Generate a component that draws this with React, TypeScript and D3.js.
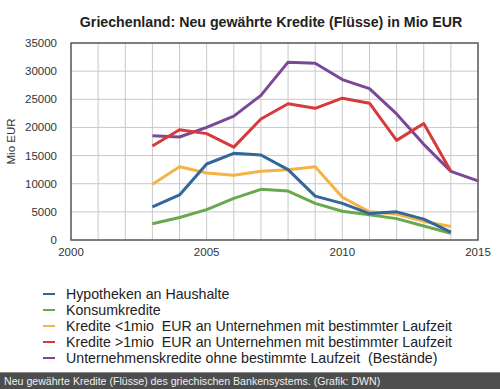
import React, { useEffect, useRef } from 'react';
import * as d3 from 'd3';

const years = [2003, 2004, 2005, 2006, 2007, 2008, 2009, 2010, 2011, 2012, 2013, 2014, 2015];

const hypotheken = [5900, 8000, 13500, 15400, 15100, 12500, 7800, 6500, 4700, 5000, 3700, 1400];
const konsum = [2900, 4000, 5400, 7400, 9000, 8700, 6500, 5100, 4500, 3800, 2500, 1200];
const kleinKredite = [9900, 13000, 11900, 11500, 12200, 12500, 13000, 7600, 5000, 4600, 3300, 2400];
const grossKredite = [16700, 19600, 18900, 16500, 21500, 24200, 23400, 25200, 24300, 17700, 20700, 12200];
const ohneLaufzeit = [18500, 18300, 20000, 22000, 25700, 31600, 31400, 28500, 26900, 22400, 17000, 12200, 10500];

const seriesNames = [
  'Hypotheken an Haushalte',
  'Konsumkredite',
  'Kredite <1mio  EUR an Unternehmen mit bestimmter Laufzeit',
  'Kredite >1mio  EUR an Unternehmen mit bestimmter Laufzeit',
  'Unternehmenskredite ohne bestimmte Laufzeit  (Bestände)',
];
const seriesColors = ['#33679a', '#6aa84f', '#f4b343', '#d63a3c', '#7b4897'];
const yTicks = [0, 5000, 10000, 15000, 20000, 25000, 30000, 35000];
const xTicks = [2000, 2005, 2010, 2015];

const App: React.FC = () => {
  const svgRef = useRef<SVGSVGElement>(null);

  useEffect(() => {
    if (!svgRef.current) return;
    const svg = d3.select(svgRef.current);
    svg.selectAll('*').remove();

    const left = 71, right = 478, top = 43, bottom = 240;
    const font = 'Liberation Sans, Arial, Helvetica, sans-serif';

    svg.append('rect').attr('width', 500).attr('height', 389).attr('fill', '#fff');

    const x = d3.scaleLinear().domain([2000, 2015]).range([left, right]);
    const y = d3.scaleLinear().domain([0, 35000]).range([bottom, top]);

    // grid
    const grid = svg.append('g').attr('stroke', '#c9c9c9').attr('stroke-width', 1);
    d3.range(2001, 2015).forEach(yr => {
      grid.append('line').attr('x1', x(yr)).attr('x2', x(yr)).attr('y1', top).attr('y2', bottom);
    });
    yTicks.slice(1, -1).forEach(v => {
      grid.append('line').attr('x1', left).attr('x2', right).attr('y1', y(v)).attr('y2', y(v));
    });

    svg.append('rect')
      .attr('x', left).attr('y', top)
      .attr('width', right - left).attr('height', bottom - top)
      .attr('fill', 'none').attr('stroke', '#555').attr('stroke-width', 1.5);

    // tick labels
    svg.append('g').selectAll('text').data(yTicks).enter().append('text')
      .attr('x', left - 14).attr('y', d => y(d) + 4)
      .attr('text-anchor', 'end')
      .attr('font-family', font).attr('font-size', 11.5).attr('fill', '#333')
      .text(d => d);

    svg.append('g').selectAll('text').data(xTicks).enter().append('text')
      .attr('x', d => x(d)).attr('y', bottom + 16)
      .attr('text-anchor', 'middle')
      .attr('font-family', font).attr('font-size', 11.5).attr('fill', '#333')
      .text(d => d);

    svg.append('text')
      .attr('transform', `translate(15,${(top + bottom) / 2}) rotate(-90)`)
      .attr('text-anchor', 'middle')
      .attr('font-family', font).attr('font-size', 11.5).attr('fill', '#333')
      .text('Mio EUR');

    svg.append('text')
      .attr('x', 271).attr('y', 27)
      .attr('text-anchor', 'middle')
      .attr('font-family', font).attr('font-size', 14.2).attr('font-weight', 'bold').attr('fill', '#222')
      .text('Griechenland: Neu gewährte Kredite (Flüsse) in Mio EUR');

    // lines
    const allSeries = [hypotheken, konsum, kleinKredite, grossKredite, ohneLaufzeit];
    const line = d3.line<number>()
      .x((_, i) => x(years[i]))
      .y(d => y(d));
    const drawOrder = [4, 3, 2, 1, 0];
    drawOrder.forEach(i => {
      svg.append('path')
        .datum(allSeries[i])
        .attr('d', line)
        .attr('fill', 'none')
        .attr('stroke', seriesColors[i])
        .attr('stroke-width', 3)
        .attr('stroke-linejoin', 'round');
    });

    // legend
    const legend = svg.append('g');
    seriesNames.forEach((name, i) => {
      const ly = 294 + i * 16;
      legend.append('line')
        .attr('x1', 43).attr('x2', 55).attr('y1', ly).attr('y2', ly)
        .attr('stroke', seriesColors[i]).attr('stroke-width', 2);
      legend.append('text')
        .attr('x', 66).attr('y', ly + 5)
        .attr('font-family', font).attr('font-size', 14.2).attr('fill', '#222')
        .attr('xml:space', 'preserve')
        .style('white-space', 'pre')
        .text(name);
    });

    // caption bar
    svg.append('rect').attr('x', 0).attr('y', 372).attr('width', 500).attr('height', 17).attr('fill', '#4d4d4d');
    svg.append('line').attr('x1', 0).attr('x2', 500).attr('y1', 372.5).attr('y2', 372.5).attr('stroke', '#8a8a8a');
    svg.append('text')
      .attr('x', 4).attr('y', 384.5)
      .attr('font-family', font).attr('font-size', 10.6).attr('fill', '#f0f0f0')
      .text('Neu gewährte Kredite (Flüsse) des griechischen Bankensystems. (Grafik: DWN)');
  }, []);

  return (
    <svg ref={svgRef} width={500} height={389}
      style={{ position: 'absolute', left: 0, top: 0, display: 'block' }} />
  );
};

export default App;
